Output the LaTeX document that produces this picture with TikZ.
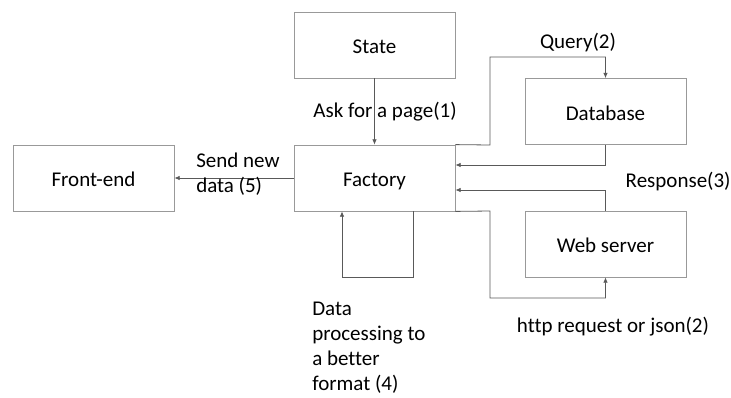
\documentclass[tikz,border=0pt]{standalone}
\usepackage{fontspec}
\setmainfont[Ligatures=NoCommon]{Carlito}
\usetikzlibrary{arrows.meta}
\usetikzlibrary{positioning}

\begin{document}
\begin{tikzpicture}[x=0.75pt, y=-0.75pt, font=\fontsize{15.75}{18.75}\selectfont,
  box/.style={draw=gray!80, line width=0.6pt, minimum width=120.75pt, minimum height=49.5pt, inner sep=0pt, text depth=0pt, text height=13pt},
  link/.style={draw=gray!70!black, line width=0.6pt, -{Latex[length=4pt,width=3.5pt]}}]
  \useasboundingbox (0,0) rectangle (731,397);

  \node[box] (state)    at (374.5,45)  {State};
  \node[box] (factory)  at (374.5,178) {Factory};
  \node[box] (frontend) at (93.5,178)  {Front-end};
  \node[box] (database) at (605.5,111.5) {Database};
  \node[box] (webserver) at (605.5,244) {Web server};

  %\coordinate for the bends
  \coordinate (qa) at (490,145);
  \coordinate (qb) at (490,57);
  \coordinate (ha) at (490,211);
  \coordinate (hb) at (490,298);
  \coordinate (la) at (413,277);
  \coordinate (lb) at (342,277);

  \path[link] (state) -- (factory);
  \path[link] (factory.west) -- (frontend.east);
  \path[link] (factory.north east) -- (qa) -- (qb) -| (database.north);
  \path[link] (database.south) |- ([yshift=9.75pt]factory.east);
  \path[link] (webserver.north) |- ([yshift=-9pt]factory.east);
  \path[link] (factory.south east) -- (ha) -- (hb) -| (webserver.south);
  \path[link] (factory.south -| la) -- (la) -- (lb) -- (factory.south -| lb);

  \node (ask)  at (385,112) {Ask for a page(1)};
  \node (query) at (578,43) {Query(2)};
  \node[anchor=west] (resp) at (621,182) {Response(3)};
  \node (http) at (613,327) {http request or json(2)};
  \node[anchor=north west, align=left, inner sep=0pt] (proc) at (312,302) {Data\\processing to\\a better\\format (4)};
  \node[anchor=north west, align=left, inner sep=0pt] (send) at (196,153) {Send new\\data (5)};
\end{tikzpicture}
\end{document}
